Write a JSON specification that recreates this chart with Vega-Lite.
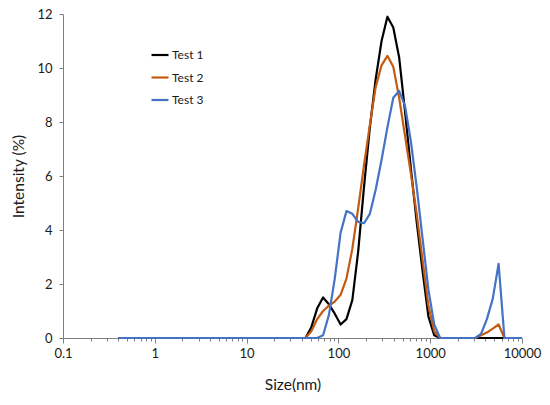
{
  "$schema": "https://vega.github.io/schema/vega-lite/v6.json",
  "autosize": "none",
  "width": 459,
  "height": 324,
  "padding": {"left": 63, "top": 14, "right": 28, "bottom": 67},
  "background": "white",
  "config": {"view": {"stroke": null}, "font": "Lato"},
  "data": {"values": [
    {"s":0.4,"t":"Test 1","v":0},{"s":0.4632,"t":"Test 1","v":0},{"s":0.5365,"t":"Test 1","v":0},{"s":0.6213,"t":"Test 1","v":0},{"s":0.7195,"t":"Test 1","v":0},{"s":0.8332,"t":"Test 1","v":0},{"s":0.9649,"t":"Test 1","v":0},{"s":1.117,"t":"Test 1","v":0},{"s":1.294,"t":"Test 1","v":0},{"s":1.499,"t":"Test 1","v":0},{"s":1.736,"t":"Test 1","v":0},{"s":2.01,"t":"Test 1","v":0},{"s":2.328,"t":"Test 1","v":0},{"s":2.696,"t":"Test 1","v":0},{"s":3.122,"t":"Test 1","v":0},{"s":3.615,"t":"Test 1","v":0},{"s":4.187,"t":"Test 1","v":0},{"s":4.849,"t":"Test 1","v":0},{"s":5.615,"t":"Test 1","v":0},{"s":6.503,"t":"Test 1","v":0},{"s":7.531,"t":"Test 1","v":0},{"s":8.721,"t":"Test 1","v":0},{"s":10.1,"t":"Test 1","v":0},{"s":11.7,"t":"Test 1","v":0},{"s":13.54,"t":"Test 1","v":0},{"s":15.69,"t":"Test 1","v":0},{"s":18.17,"t":"Test 1","v":0},{"s":21.04,"t":"Test 1","v":0},{"s":24.36,"t":"Test 1","v":0},{"s":28.21,"t":"Test 1","v":0},{"s":32.67,"t":"Test 1","v":0},{"s":37.84,"t":"Test 1","v":0},{"s":43.82,"t":"Test 1","v":0},{"s":50.75,"t":"Test 1","v":0.4},{"s":58.77,"t":"Test 1","v":1.1},{"s":68.06,"t":"Test 1","v":1.5},{"s":78.82,"t":"Test 1","v":1.25},{"s":91.28,"t":"Test 1","v":0.9},{"s":105.7,"t":"Test 1","v":0.5},{"s":122.4,"t":"Test 1","v":0.7},{"s":141.8,"t":"Test 1","v":1.4},{"s":164.2,"t":"Test 1","v":3.2},{"s":190.1,"t":"Test 1","v":5.6},{"s":220.2,"t":"Test 1","v":7.8},{"s":255,"t":"Test 1","v":9.6},{"s":295.3,"t":"Test 1","v":11.0},{"s":342,"t":"Test 1","v":11.9},{"s":396.1,"t":"Test 1","v":11.5},{"s":458.7,"t":"Test 1","v":10.4},{"s":531.2,"t":"Test 1","v":8.4},{"s":615.1,"t":"Test 1","v":6.3},{"s":712.4,"t":"Test 1","v":4.3},{"s":825,"t":"Test 1","v":2.5},{"s":955.4,"t":"Test 1","v":0.8},{"s":1106,"t":"Test 1","v":0.1},{"s":1281,"t":"Test 1","v":0},{"s":1484,"t":"Test 1","v":0},{"s":1718,"t":"Test 1","v":0},{"s":1990,"t":"Test 1","v":0},{"s":2305,"t":"Test 1","v":0},{"s":2669,"t":"Test 1","v":0},{"s":3091,"t":"Test 1","v":0},{"s":3580,"t":"Test 1","v":0},{"s":4145,"t":"Test 1","v":0},{"s":4801,"t":"Test 1","v":0},{"s":5560,"t":"Test 1","v":0},{"s":6439,"t":"Test 1","v":0},{"s":7456,"t":"Test 1","v":0},{"s":8635,"t":"Test 1","v":0},{"s":10000,"t":"Test 1","v":0},
    {"s":0.4,"t":"Test 2","v":0},{"s":0.4632,"t":"Test 2","v":0},{"s":0.5365,"t":"Test 2","v":0},{"s":0.6213,"t":"Test 2","v":0},{"s":0.7195,"t":"Test 2","v":0},{"s":0.8332,"t":"Test 2","v":0},{"s":0.9649,"t":"Test 2","v":0},{"s":1.117,"t":"Test 2","v":0},{"s":1.294,"t":"Test 2","v":0},{"s":1.499,"t":"Test 2","v":0},{"s":1.736,"t":"Test 2","v":0},{"s":2.01,"t":"Test 2","v":0},{"s":2.328,"t":"Test 2","v":0},{"s":2.696,"t":"Test 2","v":0},{"s":3.122,"t":"Test 2","v":0},{"s":3.615,"t":"Test 2","v":0},{"s":4.187,"t":"Test 2","v":0},{"s":4.849,"t":"Test 2","v":0},{"s":5.615,"t":"Test 2","v":0},{"s":6.503,"t":"Test 2","v":0},{"s":7.531,"t":"Test 2","v":0},{"s":8.721,"t":"Test 2","v":0},{"s":10.1,"t":"Test 2","v":0},{"s":11.7,"t":"Test 2","v":0},{"s":13.54,"t":"Test 2","v":0},{"s":15.69,"t":"Test 2","v":0},{"s":18.17,"t":"Test 2","v":0},{"s":21.04,"t":"Test 2","v":0},{"s":24.36,"t":"Test 2","v":0},{"s":28.21,"t":"Test 2","v":0},{"s":32.67,"t":"Test 2","v":0},{"s":37.84,"t":"Test 2","v":0},{"s":43.82,"t":"Test 2","v":0},{"s":50.75,"t":"Test 2","v":0.25},{"s":58.77,"t":"Test 2","v":0.7},{"s":68.06,"t":"Test 2","v":1.0},{"s":78.82,"t":"Test 2","v":1.2},{"s":91.28,"t":"Test 2","v":1.35},{"s":105.7,"t":"Test 2","v":1.6},{"s":122.4,"t":"Test 2","v":2.2},{"s":141.8,"t":"Test 2","v":3.3},{"s":164.2,"t":"Test 2","v":4.8},{"s":190.1,"t":"Test 2","v":6.4},{"s":220.2,"t":"Test 2","v":7.9},{"s":255,"t":"Test 2","v":9.3},{"s":295.3,"t":"Test 2","v":10.1},{"s":342,"t":"Test 2","v":10.45},{"s":396.1,"t":"Test 2","v":10.05},{"s":458.7,"t":"Test 2","v":8.9},{"s":531.2,"t":"Test 2","v":7.5},{"s":615.1,"t":"Test 2","v":6.1},{"s":712.4,"t":"Test 2","v":4.6},{"s":825,"t":"Test 2","v":2.9},{"s":955.4,"t":"Test 2","v":1.2},{"s":1106,"t":"Test 2","v":0.25},{"s":1281,"t":"Test 2","v":0},{"s":1484,"t":"Test 2","v":0},{"s":1718,"t":"Test 2","v":0},{"s":1990,"t":"Test 2","v":0},{"s":2305,"t":"Test 2","v":0},{"s":2669,"t":"Test 2","v":0},{"s":3091,"t":"Test 2","v":0},{"s":3580,"t":"Test 2","v":0.1},{"s":4145,"t":"Test 2","v":0.2},{"s":4801,"t":"Test 2","v":0.35},{"s":5560,"t":"Test 2","v":0.5},{"s":6439,"t":"Test 2","v":0},{"s":7456,"t":"Test 2","v":0},{"s":8635,"t":"Test 2","v":0},{"s":10000,"t":"Test 2","v":0},
    {"s":0.4,"t":"Test 3","v":0},{"s":0.4632,"t":"Test 3","v":0},{"s":0.5365,"t":"Test 3","v":0},{"s":0.6213,"t":"Test 3","v":0},{"s":0.7195,"t":"Test 3","v":0},{"s":0.8332,"t":"Test 3","v":0},{"s":0.9649,"t":"Test 3","v":0},{"s":1.117,"t":"Test 3","v":0},{"s":1.294,"t":"Test 3","v":0},{"s":1.499,"t":"Test 3","v":0},{"s":1.736,"t":"Test 3","v":0},{"s":2.01,"t":"Test 3","v":0},{"s":2.328,"t":"Test 3","v":0},{"s":2.696,"t":"Test 3","v":0},{"s":3.122,"t":"Test 3","v":0},{"s":3.615,"t":"Test 3","v":0},{"s":4.187,"t":"Test 3","v":0},{"s":4.849,"t":"Test 3","v":0},{"s":5.615,"t":"Test 3","v":0},{"s":6.503,"t":"Test 3","v":0},{"s":7.531,"t":"Test 3","v":0},{"s":8.721,"t":"Test 3","v":0},{"s":10.1,"t":"Test 3","v":0},{"s":11.7,"t":"Test 3","v":0},{"s":13.54,"t":"Test 3","v":0},{"s":15.69,"t":"Test 3","v":0},{"s":18.17,"t":"Test 3","v":0},{"s":21.04,"t":"Test 3","v":0},{"s":24.36,"t":"Test 3","v":0},{"s":28.21,"t":"Test 3","v":0},{"s":32.67,"t":"Test 3","v":0},{"s":37.84,"t":"Test 3","v":0},{"s":43.82,"t":"Test 3","v":0},{"s":50.75,"t":"Test 3","v":0},{"s":58.77,"t":"Test 3","v":0},{"s":68.06,"t":"Test 3","v":0.1},{"s":78.82,"t":"Test 3","v":0.85},{"s":91.28,"t":"Test 3","v":2.2},{"s":105.7,"t":"Test 3","v":3.9},{"s":122.4,"t":"Test 3","v":4.7},{"s":141.8,"t":"Test 3","v":4.6},{"s":164.2,"t":"Test 3","v":4.3},{"s":190.1,"t":"Test 3","v":4.25},{"s":220.2,"t":"Test 3","v":4.6},{"s":255,"t":"Test 3","v":5.5},{"s":295.3,"t":"Test 3","v":6.6},{"s":342,"t":"Test 3","v":7.8},{"s":396.1,"t":"Test 3","v":8.9},{"s":458.7,"t":"Test 3","v":9.15},{"s":531.2,"t":"Test 3","v":8.6},{"s":615.1,"t":"Test 3","v":7.3},{"s":712.4,"t":"Test 3","v":5.6},{"s":825,"t":"Test 3","v":3.7},{"s":955.4,"t":"Test 3","v":1.8},{"s":1106,"t":"Test 3","v":0.5},{"s":1281,"t":"Test 3","v":0},{"s":1484,"t":"Test 3","v":0},{"s":1718,"t":"Test 3","v":0},{"s":1990,"t":"Test 3","v":0},{"s":2305,"t":"Test 3","v":0},{"s":2669,"t":"Test 3","v":0},{"s":3091,"t":"Test 3","v":0},{"s":3580,"t":"Test 3","v":0.15},{"s":4145,"t":"Test 3","v":0.7},{"s":4801,"t":"Test 3","v":1.45},{"s":5560,"t":"Test 3","v":2.75},{"s":6439,"t":"Test 3","v":0},{"s":7456,"t":"Test 3","v":0},{"s":8635,"t":"Test 3","v":0},{"s":10000,"t":"Test 3","v":0}
  ]},
  "mark": {"type": "line", "strokeWidth": 2.2, "strokeJoin": "round"},
  "encoding": {
    "x": {
      "field": "s", "type": "quantitative",
      "scale": {"type": "log", "domain": [0.1, 10000], "nice": false},
      "axis": {
        "title": "Size(nm)",
        "titleFont": "Lato", "titleFontSize": 15.5, "titleFontWeight": "normal", "titleColor": "#1a1a1a", "titlePadding": 17,
        "values": [0.1,0.2,0.3,0.4,0.5,0.6,0.7,0.8,0.9,1,2,3,4,5,6,7,8,9,10,20,30,40,50,60,70,80,90,100,200,300,400,500,600,700,800,900,1000,2000,3000,4000,5000,6000,7000,8000,9000,10000],
        "labelExpr": "indexof([0.1,1,10,100,1000,10000], datum.value) >= 0 ? datum.label : ''",
        "format": "~g",
        "labelFont": "Lato", "labelFontSize": 13, "labelColor": "#1a1a1a", "labelPadding": 4,
        "labelOverlap": false, "labelBound": false, "labelFlush": false,
        "tickSize": {"condition": {"test": "indexof([0.1,1,10,100,1000,10000], datum.value) >= 0", "value": 5}, "value": 3},
        "tickColor": "#7f7f7f", "domainColor": "#7f7f7f", "tickWidth": 1, "domainWidth": 1,
        "grid": false
      }
    },
    "y": {
      "field": "v", "type": "quantitative",
      "scale": {"domain": [0, 12], "nice": false},
      "axis": {
        "title": "Intensity (%)",
        "titleFont": "Lato", "titleFontSize": 15.5, "titleFontWeight": "normal", "titleColor": "#1a1a1a", "titlePadding": 10,
        "values": [0,2,4,6,8,10,12],
        "labelFont": "Lato", "labelFontSize": 13, "labelColor": "#1a1a1a", "labelPadding": 7,
        "tickSize": 4, "tickColor": "#7f7f7f", "domainColor": "#7f7f7f",
        "grid": false
      }
    },
    "color": {
      "field": "t", "type": "nominal",
      "scale": {"domain": ["Test 1", "Test 2", "Test 3"], "range": ["#000000", "#C55A11", "#4472C4"]},
      "legend": {
        "title": null, "orient": "none", "legendX": 87, "legendY": 31,
        "symbolType": "stroke", "symbolSize": 289, "symbolStrokeWidth": 2.2,
        "labelFont": "Lato", "labelFontSize": 12, "labelColor": "#1a1a1a", "labelOffset": 2,
        "rowPadding": 6.5
      }
    }
  }
}
